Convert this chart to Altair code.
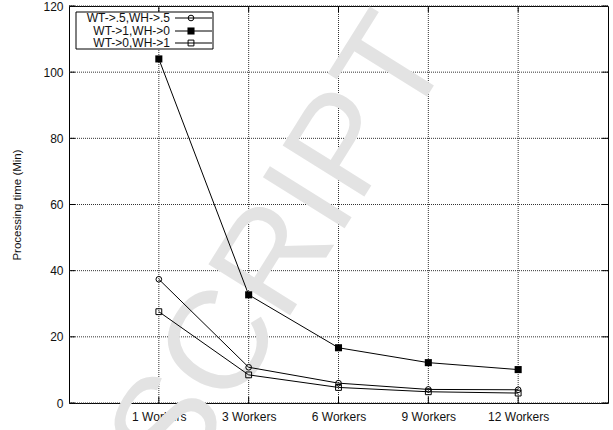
import altair as alt
import pandas as pd

workers = ["1 Workers", "3 Workers", "6 Workers", "9 Workers", "12 Workers"]
series_names = ["WT->.5,WH->.5", "WT->1,WH->0", "WT->0,WH->1"]
half_half = [37.4, 10.8, 6.0, 4.1, 4.0]
wt_only = [104.0, 32.7, 16.7, 12.2, 10.1]
wh_only = [27.6, 8.5, 4.7, 3.4, 3.0]
y_ticks = [0, 20, 40, 60, 80, 100, 120]
watermark_text = ["SCRIPT"]

W, H = 539, 397
FONT = "Liberation Sans"

rows = []
for name, vals in zip(series_names, [half_half, wt_only, wh_only]):
    for w, v in zip(workers, vals):
        rows.append({"series": name, "workers": w, "time": v})
df = pd.DataFrame(rows)

xscale = alt.Scale(type="point", padding=1, domain=workers)
yscale = alt.Scale(domain=[0, 120], nice=False, zero=True)

X = alt.X("workers:N", sort=workers, scale=xscale,
          axis=alt.Axis(title=None, labelAngle=0, ticks=False, domain=False, grid=False,
                        labelFontSize=12, labelFont=FONT, labelColor="#111", labelPadding=8))
Y = alt.Y("time:Q", scale=yscale,
          axis=alt.Axis(title="Processing time (Min)", values=y_ticks, ticks=False, domain=False,
                        grid=False, labelFontSize=12, labelFont=FONT, labelColor="#111",
                        labelPadding=6, titleFont=FONT, titleFontSize=11.5,
                        titleFontWeight="normal", titleColor="#111", titlePadding=20))

wdf = pd.DataFrame({"t": watermark_text})
watermark = alt.Chart(wdf).mark_text(
    fontSize=140, font=FONT, angle=302, color="#e3e3e3", align="left", baseline="alphabetic"
).encode(text="t:N", x=alt.value(112), y=alt.value(484))

wk = pd.DataFrame({"workers": workers})
yt = pd.DataFrame({"time": y_ticks})

vgrid = alt.Chart(wk).mark_rule(color="#333", strokeDash=[1, 1], strokeWidth=1).encode(
    x=X, y=alt.value(0), y2=alt.value(H))
hgrid = alt.Chart(yt).mark_rule(color="#333", strokeDash=[1, 1], strokeWidth=1).encode(
    y=Y, x=alt.value(0), x2=alt.value(W))

xt_bot = alt.Chart(wk).mark_rule(color="black").encode(x=X, y=alt.value(H), y2=alt.value(H - 6))
xt_top = alt.Chart(wk).mark_rule(color="black").encode(x=X, y=alt.value(0), y2=alt.value(6))
yt_left = alt.Chart(yt).mark_rule(color="black").encode(y=Y, x=alt.value(0), x2=alt.value(6))
yt_right = alt.Chart(yt).mark_rule(color="black").encode(y=Y, x=alt.value(W - 6), x2=alt.value(W))

lines = alt.Chart(df).mark_line(color="black", strokeWidth=1).encode(
    x=X, y=Y, detail="series:N")

base = alt.Chart(df)
p1 = base.transform_filter(alt.datum.series == series_names[0]).mark_point(
    shape="circle", filled=False, color="black", size=32, strokeWidth=1, opacity=1).encode(x=X, y=Y)
p2 = base.transform_filter(alt.datum.series == series_names[1]).mark_point(
    shape="square", filled=True, color="black", size=50, opacity=1).encode(x=X, y=Y)
p3 = base.transform_filter(alt.datum.series == series_names[2]).mark_point(
    shape="square", filled=False, color="black", size=34, strokeWidth=1, opacity=1).encode(x=X, y=Y)

# manual legend
one = pd.DataFrame({"a": [0]})
leg_box = alt.Chart(one).mark_rect(fill="white", stroke="black", strokeWidth=1).encode(
    x=alt.value(7), x2=alt.value(144), y=alt.value(6), y2=alt.value(43))
leg_rows = [12, 25, 37]
shapes = [("circle", False, 32), ("square", True, 50), ("square", False, 34)]
leg_layers = []
for name, ly, (shp, fl, sz) in zip(series_names, leg_rows, shapes):
    ld = pd.DataFrame({"series": [name]})
    leg_layers.append(alt.Chart(ld).mark_text(
        align="right", baseline="middle", font=FONT, fontSize=12, color="#111").encode(
        text="series:N", x=alt.value(101), y=alt.value(ly)))
    leg_layers.append(alt.Chart(ld).mark_rule(color="black").encode(
        x=alt.value(106), x2=alt.value(143), y=alt.value(ly)))
    leg_layers.append(alt.Chart(ld).mark_point(
        shape=shp, filled=fl, color="black", size=sz, strokeWidth=1, opacity=1).encode(
        x=alt.value(122), y=alt.value(ly)))

chart = alt.layer(
    vgrid, hgrid, watermark, lines, p1, p2, p3, xt_bot, xt_top, yt_left, yt_right,
    leg_box, *leg_layers
).properties(
    width=W, height=H,
    autosize=alt.AutoSizeParams(type="none"),
    padding={"left": 69, "top": 6, "right": 5, "bottom": 27},
    background="white",
).configure_view(stroke="black", strokeWidth=1)

chart.save("out.html", embed_options={"renderer": "svg", "actions": False})
